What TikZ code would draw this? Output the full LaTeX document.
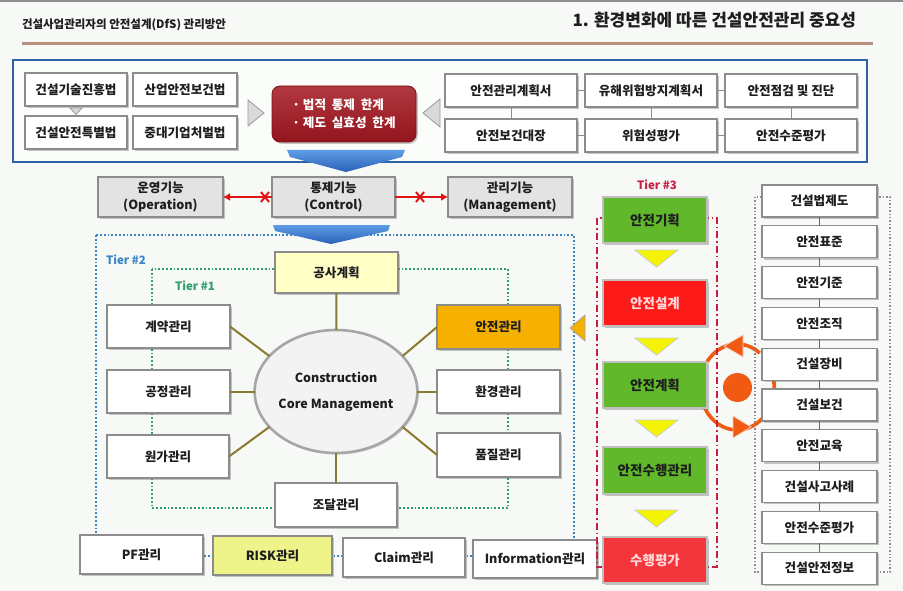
\documentclass[tikz,border=0pt]{standalone}
\usepackage{fontspec}
\setmainfont{Noto Sans CJK KR}
\usetikzlibrary{shapes.geometric,shadows,arrows.meta}
\definecolor{bg}{HTML}{F6F9F5}
\definecolor{boxln}{HTML}{8C8C8C}
\definecolor{txt}{HTML}{1E1E1E}
\definecolor{bluebd}{HTML}{2D62A6}
\definecolor{brownln}{HTML}{B8927C}
\definecolor{limred}{HTML}{A3161F}
\definecolor{midgray}{HTML}{E3E3E3}
\definecolor{arrred}{HTML}{E01414}
\definecolor{t2blue}{HTML}{3C82C4}
\definecolor{t1green}{HTML}{2E9E6C}
\definecolor{t3red}{HTML}{C81E46}
\definecolor{lyellow}{HTML}{FFFFC6}
\definecolor{safeor}{HTML}{F5B000}
\definecolor{olivec}{HTML}{8A7A32}
\definecolor{ellfill}{HTML}{F3F3F3}
\definecolor{ellln}{HTML}{A6A6A6}
\definecolor{riskc}{HTML}{EEF48A}
\definecolor{grn}{HTML}{60B82A}
\definecolor{brightred}{HTML}{FF1A1A}
\definecolor{evalred}{HTML}{F2363C}
\definecolor{yel}{HTML}{F4F400}
\definecolor{orng}{HTML}{F05A12}
\definecolor{blueA}{HTML}{5E9DE6}
\definecolor{blueB}{HTML}{2A60B6}
\begin{document}
\begin{tikzpicture}[x=1pt,y=-1pt,
  every node/.style={inner sep=0pt, outer sep=0pt},
  sz/.style n args={2}{minimum width=#1pt, minimum height=#2pt},
  fnt/.style={font=\bfseries\fontsize{#1}{#1}\selectfont},
  box/.style={draw=boxln, line width=1.2pt, fill=white, text=txt,
    font=\bfseries\fontsize{12.6}{14}\selectfont,
    drop shadow={shadow xshift=1.8pt, shadow yshift=-1.8pt, opacity=0.4, fill=black!55}},
  midbox/.style={box, fill=midgray, align=center, font=\bfseries\fontsize{12.6}{17.5}\selectfont},
  tbox/.style={box, draw=black!25, font=\bfseries\fontsize{13.5}{15}\selectfont},
  conn/.style={draw=boxln, line width=1pt},
  oliveln/.style={draw=olivec, line width=2pt},
  grtri/.style={fill=black!15, draw=black!40, line width=0.8pt},
  yeltri/.style={fill=yel, draw=black!20, line width=0.8pt},
  redarr/.style={draw=arrred, line width=2.4pt, -{Latex[length=7pt,width=8pt]}},
  xmark/.style={draw=arrred, line width=2pt},
  ring/.style={draw=orng, line width=3.6pt}
]
\useasboundingbox (0,0) rectangle (903,591);
\fill[bg] (0,0) rectangle (903,591);
\fill[black!45] (0,0) rectangle (903,2.5);

% header
\node[anchor=west, text=txt, fnt=11.5] (htl) at (22,25) {건설사업관리자의 안전설계(DfS) 관리방안};
\node[anchor=east, text=txt, fnt=17] (htr) at (856,20) {1. 환경변화에 따른 건설안전관리 중요성};
\draw[brownln, line width=3pt] (22,43.5) -- (873,43.5);

% top blue frame
\draw[bluebd, line width=2.2pt, fill=white!60!bg] (13,60) rectangle (867,162);

% law boxes
\node[box, sz={102}{33}] (lawA) at (76,89.5) {건설기술진흥법};
\node[box, sz={104}{33}] (lawB) at (185,89.5) {산업안전보건법};
\node[box, sz={102}{33}] (lawC) at (76,132.5) {건설안전특별법};
\node[box, sz={104}{33}] (lawD) at (185,132.5) {중대기업처벌법};
\filldraw[grtri] (70,108) -- (82,108) -- (76,114.5) -- cycle;

% arrows into red box
\filldraw[grtri] (248,100) -- (264,113) -- (248,126) -- cycle;
\filldraw[grtri] (440,99) -- (423,113) -- (440,127) -- cycle;

% limits box
\node[draw=limred!80!black, line width=0.8pt, rounded corners=8pt, top color=limred!85!white, bottom color=limred!90!black,
  sz={144}{56}, text=white, align=left, font=\bfseries\fontsize{12.6}{17.5}\selectfont,
  drop shadow={shadow xshift=1.8pt, shadow yshift=-1.8pt, opacity=0.4, fill=black!55}] (lim) at (344,114)
  {·\ 법적 \ 통제 \ 한계\\·\ 제도 \ 실효성 \ 한계};

% safety doc boxes
\node[box, sz={132}{33}] (sA) at (511,90.5) {안전관리계획서};
\node[box, sz={132}{33}] (sB) at (651,90.5) {유해위험방지계획서};
\node[box, sz={132}{33}] (sC) at (791,90.5) {안전점검 및 진단};
\node[box, sz={132}{33}] (sD) at (511,135.5) {안전보건대장};
\node[box, sz={132}{33}] (sE) at (651,135.5) {위험성평가};
\node[box, sz={132}{33}] (sF) at (791,135.5) {안전수준평가};
\draw[conn] (sA) -- (sB);
\draw[conn] (sB) -- (sC);
\draw[conn] (sD) -- (sE);
\draw[conn] (sE) -- (sF);
\draw[conn] (sA) -- (sD);
\draw[conn] (sB) -- (sE);
\draw[conn] (sC) -- (sF);

% blue arrow 1
\shade[top color=blueA, bottom color=blueB] (287,150) -- (405,150) -- (402,157) -- (346,172) -- (290,157) -- cycle;

% function row
\node[midbox, sz={125}{40}] (op) at (160.5,197) {운영기능\\(Operation)};
\node[midbox, sz={123}{40}] (ctl) at (333.5,197) {통제기능\\(Control)};
\node[midbox, sz={124}{40}] (mgt) at (510,197) {관리기능\\(Management)};
\draw[redarr] (ctl.west) -- (op.east);
\draw[redarr] (ctl.east) -- (mgt.west);
\draw[xmark] (261,192) -- (269,202) (261,202) -- (269,192);
\draw[xmark] (416,192) -- (424,202) (416,202) -- (424,192);

% tier frames
\draw[t2blue, line width=1.8pt, dotted] (96,235) rectangle (574,556);
\draw[t1green, line width=1.8pt, dotted] (152,269) rectangle (508,508);
\shade[top color=blueA, bottom color=blueB] (273,225) -- (390,225) -- (388,231) -- (331,244) -- (275,231) -- cycle;
\node[text=t2blue, fnt=11.5] (lt2) at (126,260) {Tier \#2};
\node[text=t1green, fnt=11.5] (lt1) at (195,286) {Tier \#1};

% core
\node[ellipse, draw=ellln, line width=2.6pt, fill=ellfill, sz={152}{123}, align=center, text=txt,
  font=\bfseries\fontsize{12.5}{26}\selectfont,
  drop shadow={shadow xshift=1.5pt, shadow yshift=-1.5pt, opacity=0.3, fill=black!55}] (core) at (336,391.5)
  {Construction\\Core Management};
\node[box, sz={123}{41}, fill=lyellow] (plan) at (336.5,272.5) {공사계획};
\node[box, sz={123}{43}] (c1) at (168.5,326.5) {계약관리};
\node[box, sz={123}{43}] (c2) at (168.5,391.5) {공정관리};
\node[box, sz={122}{43}] (c3) at (168,456.5) {원가관리};
\node[box, sz={123}{44}, fill=safeor] (s1) at (498.5,327) {안전관리};
\node[box, sz={123}{43}] (s2) at (498.5,391.5) {환경관리};
\node[box, sz={123}{44}] (s3) at (498.5,455) {품질관리};
\node[box, sz={122}{44}] (proc) at (336,505) {조달관리};
\draw[oliveln] (plan) -- (core);
\draw[oliveln] (proc) -- (core);
\draw[oliveln] (c1.east) -- (core.152);
\draw[oliveln] (c2) -- (core);
\draw[oliveln] (c3.east) -- (core.208);
\draw[oliveln] (s1.west) -- (core.28);
\draw[oliveln] (s2) -- (core);
\draw[oliveln] (s3.west) -- (core.-28);

% bottom row
\node[box, sz={123}{39}] (pf) at (141.5,554.5) {PF관리};
\node[box, sz={119}{39}, fill=riskc] (risk) at (272.5,555.5) {RISK관리};
\node[box, sz={122}{39}] (claim) at (404,557.5) {Claim관리};
\node[box, sz={124}{38}] (info) at (535,559) {Information관리};

% orange pointer
\filldraw[fill=safeor, draw=black!35, line width=0.8pt] (570,328) -- (585,315) -- (585,341) -- cycle;

% ring
\draw[ring] (759.8,353.1) arc[start angle=308, end angle=215, x radius=37, y radius=43];
\draw[ring] (705,408.5) arc[start angle=150, end angle=45, x radius=37, y radius=43];
\draw[ring] (772.7,375.9) arc[start angle=-17, end angle=17, x radius=37, y radius=43];
\filldraw[fill=orng, draw=white!70!orng, line width=0.8pt] (724,346) -- (743,335) -- (743,357) -- cycle;
\filldraw[fill=orng, draw=white!70!orng, line width=0.8pt] (751,427) -- (733,416) -- (733,438) -- cycle;
\fill[orng] (737.5,387.5) circle[radius=14.5];

% tier 3
\draw[t3red, line width=2pt, dash pattern=on 7pt off 3pt on 1.5pt off 3pt] (597,218) rectangle (717,567);
\node[text=t3red, fnt=11.5] (lt3) at (657,185) {Tier \#3};
\node[tbox, sz={104}{46}, fill=grn] (t1) at (655,220) {안전기획};
\node[tbox, sz={104}{46}, fill=brightred, text=white!85!red] (t2) at (655,303) {안전설계};
\node[tbox, sz={104}{46}, fill=grn] (t3) at (655,385) {안전계획};
\node[tbox, sz={104}{47}, fill=grn] (t4) at (655,470.5) {안전수행관리};
\node[tbox, sz={104}{46}, fill=evalred, text=white!85!red] (t5) at (655,560) {수행평가};
\filldraw[yeltri] (635,250) -- (678,250) -- (656.5,267) -- cycle;
\filldraw[yeltri] (635,338) -- (678,338) -- (656.5,355) -- cycle;
\filldraw[yeltri] (635,420) -- (678,420) -- (656.5,437) -- cycle;
\filldraw[yeltri] (635,510) -- (678,510) -- (656.5,527) -- cycle;

% right column
\draw[black!45, line width=1.4pt, dotted] (755,197) rectangle (890,572);
\node[box, sz={115}{32}] (r0) at (819.5,201) {건설법제도};
\node[box, sz={115}{32}] (r1) at (819.5,241.8) {안전표준};
\node[box, sz={115}{32}] (r2) at (819.5,282.6) {안전기준};
\node[box, sz={115}{32}] (r3) at (819.5,323.4) {안전조직};
\node[box, sz={115}{32}] (r4) at (819.5,364.2) {건설장비};
\node[box, sz={115}{32}] (r5) at (819.5,405) {건설보건};
\node[box, sz={115}{32}] (r6) at (819.5,445.8) {안전교육};
\node[box, sz={115}{32}] (r7) at (819.5,486.6) {건설사고사례};
\node[box, sz={115}{32}] (r8) at (819.5,527.4) {안전수준평가};
\node[box, sz={115}{32}] (r9) at (819.5,568.2) {건설안전정보};
\foreach \a/\b in {r0/r1,r1/r2,r2/r3,r3/r4,r4/r5,r5/r6,r6/r7,r7/r8,r8/r9}
  \draw[conn, draw=black!60, line width=1.4pt] (\a) -- (\b);
\end{tikzpicture}
\end{document}
